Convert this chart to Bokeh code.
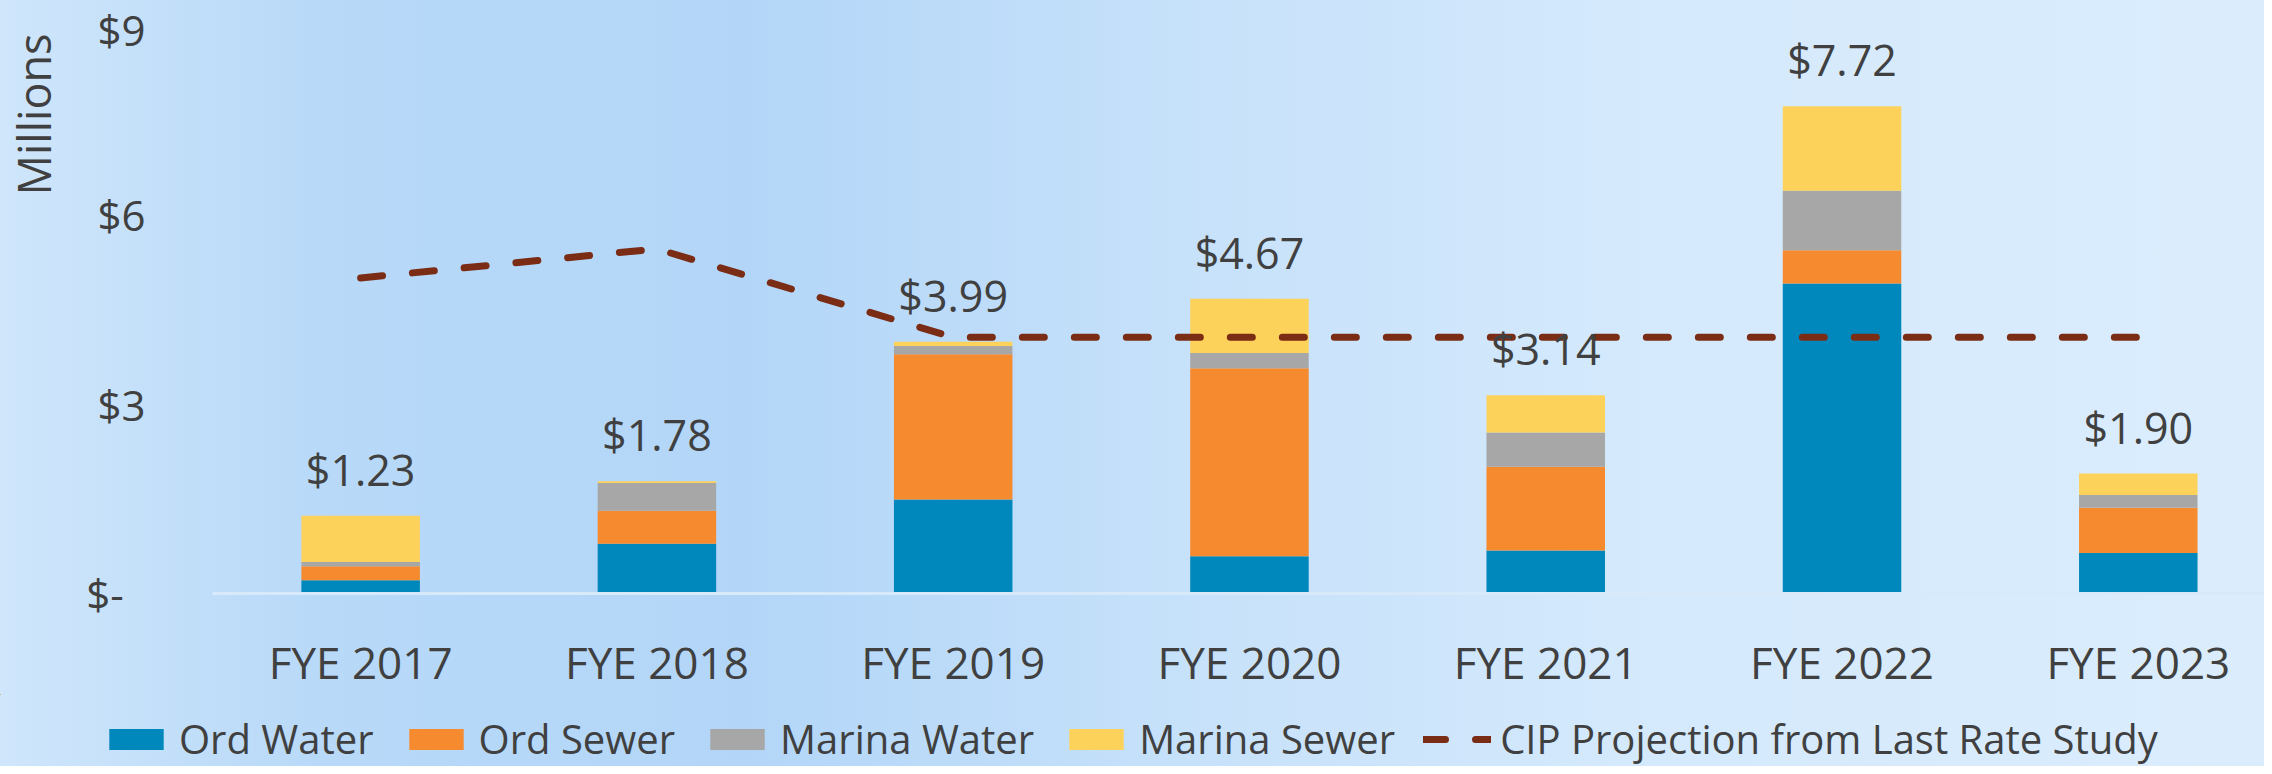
from bokeh.plotting import figure
from bokeh.layouts import column
from bokeh.models import (ColumnDataSource, Range1d, FixedTicker, Legend, LegendItem,
                          LabelSet, Title)
from bokeh.core.properties import value
from bokeh.embed import file_html
from bokeh.resources import INLINE

# ---------------- data (millions of dollars) ----------------
years = ["FYE 2017", "FYE 2018", "FYE 2019", "FYE 2020", "FYE 2021", "FYE 2022", "FYE 2023"]
ord_water = [0.21, 0.79, 1.49, 0.59, 0.68, 4.91, 0.64]
ord_sewer = [0.22, 0.52, 2.30, 2.98, 1.33, 0.53, 0.72]
marina_water = [0.07, 0.44, 0.13, 0.24, 0.54, 0.94, 0.20]
marina_sewer = [0.73, 0.03, 0.07, 0.86, 0.59, 1.34, 0.34]
cip_projection = [5.00, 5.46, 4.06, 4.06, 4.06, 4.06, 4.06]

series_names = ["Ord Water", "Ord Sewer", "Marina Water", "Marina Sewer"]
line_name = "CIP Projection from Last Rate Study"
y_ticks = [0, 3, 6, 9]
y_tick_labels = ["$-\u00a0\u00a0", "$3", "$6", "$9"]

# ---------------- styles ----------------
series_colors = ["#0088BC", "#F68A2E", "#A7A7A7", "#FDD25A"]
line_color = "#7B2C14"
text_color = "#404040"
font = "Open Sans"
bg = {"background": "linear-gradient(90deg, #cfe6fb 0%, #b8d9f8 14%, #b3d6f8 33%, "
                    "#c6e1fa 52%, #d4e9fc 72%, #dbedfd 100%)"}
W = 2264

idx = list(range(len(years)))
stackers = ["ow", "os", "mw", "ms"]
totals = [round(a + b + c + d, 2) for a, b, c, d in zip(ord_water, ord_sewer, marina_water, marina_sewer)]
source = ColumnDataSource(dict(
    x=idx, ow=ord_water, os=ord_sewer, mw=marina_water, ms=marina_sewer,
    cip=cip_projection, total=totals, label=[f"${t:.2f}" for t in totals],
))

p = figure(
    width=W, height=694,
    x_range=Range1d(-0.5, 6.426), y_range=Range1d(0, 9),
    output_backend="svg", toolbar_location=None,
    min_border_left=212, min_border_right=0, min_border_top=25, min_border_bottom=99,
    background_fill_alpha=0, border_fill_alpha=0, outline_line_color=None, styles=bg,
)
p.frame_align = False

bars = p.vbar_stack(stackers, x="x", width=0.40, source=source,
                    fill_color=series_colors, line_color=None)

cip = p.line(x="x", y="cip", source=source, line_color=line_color, line_width=7,
             line_dash="22 30", line_cap="round", line_join="round")

labels = LabelSet(x="x", y="total", text="label", source=source, text_align="center",
                  text_baseline="alphabetic", y_offset=30, text_font=value(font),
                  text_font_size="43px", text_color=text_color)
p.add_layout(labels)

# axes
p.xgrid.visible = False
p.ygrid.visible = False

p.xaxis.ticker = FixedTicker(ticks=idx)
p.xaxis.major_label_overrides = {i: y for i, y in zip(idx, years)}
p.xaxis.major_tick_out = 0
p.xaxis.major_tick_in = 0
p.xaxis.minor_tick_out = 0
p.xaxis.minor_tick_in = 0
p.xaxis.axis_line_color = "#D8EAF9"
p.xaxis.axis_line_width = 3
p.xaxis.major_label_standoff = 38
p.xaxis.major_label_text_font = font
p.xaxis.major_label_text_font_size = "44px"
p.xaxis.major_label_text_color = text_color

p.yaxis.ticker = FixedTicker(ticks=y_ticks)
p.yaxis.major_label_overrides = {t: l for t, l in zip(y_ticks, y_tick_labels)}
p.yaxis.major_tick_out = 0
p.yaxis.major_tick_in = 0
p.yaxis.minor_tick_out = 0
p.yaxis.minor_tick_in = 0
p.yaxis.axis_line_color = None
p.yaxis.major_label_standoff = 67
p.yaxis.major_label_text_font = font
p.yaxis.major_label_text_font_size = "42px"
p.yaxis.major_label_text_color = text_color
# tiny blank axis label used only as a spacer so the unit label sits at the far left
p.yaxis.axis_label = "\u00a0"
p.yaxis.axis_label_text_font_size = "2px"
p.yaxis.axis_label_standoff = 12

# display-unit label at the top left
p.add_layout(Title(text="Millions", align="right", vertical_align="top", offset=8,
                   standoff=0, text_font=font, text_font_size="45px",
                   text_font_style="normal", text_color=text_color), "left")

# ---------------- legend strip ----------------
leg = figure(width=W, height=72, x_range=Range1d(100, 101), y_range=Range1d(-101, -100),
             output_backend="svg", toolbar_location=None,
             x_axis_location=None, y_axis_location=None, min_border=0,
             background_fill_alpha=0, border_fill_alpha=0, outline_line_color=None,
             styles=bg)
leg.frame_align = False
leg.grid.visible = False
# same series, kept out of view; they only feed the legend swatches
swatches = [leg.vbar(x="x", top=s, width=0.4, source=source, fill_color=c, line_color=None)
            for s, c in zip(stackers, series_colors)]
cip_sw = leg.line(x="x", y="cip", source=source, line_color=line_color, line_width=7,
                  line_dash="22 30", line_cap="round")
items = [LegendItem(label=n, renderers=[r]) for n, r in zip(series_names, swatches)]
items.append(LegendItem(label=line_name, renderers=[cip_sw]))
legend = Legend(items=items, orientation="horizontal", location=(102, 0),
                glyph_width=68, glyph_height=26, label_standoff=9, spacing=28,
                padding=0, margin=0, border_line_color=None, background_fill_alpha=0,
                label_text_font=font, label_text_font_size="40px",
                label_text_color=text_color)
leg.add_layout(legend)

layout = column(p, leg, spacing=0)
open("out.html", "w").write(file_html(layout, INLINE))
